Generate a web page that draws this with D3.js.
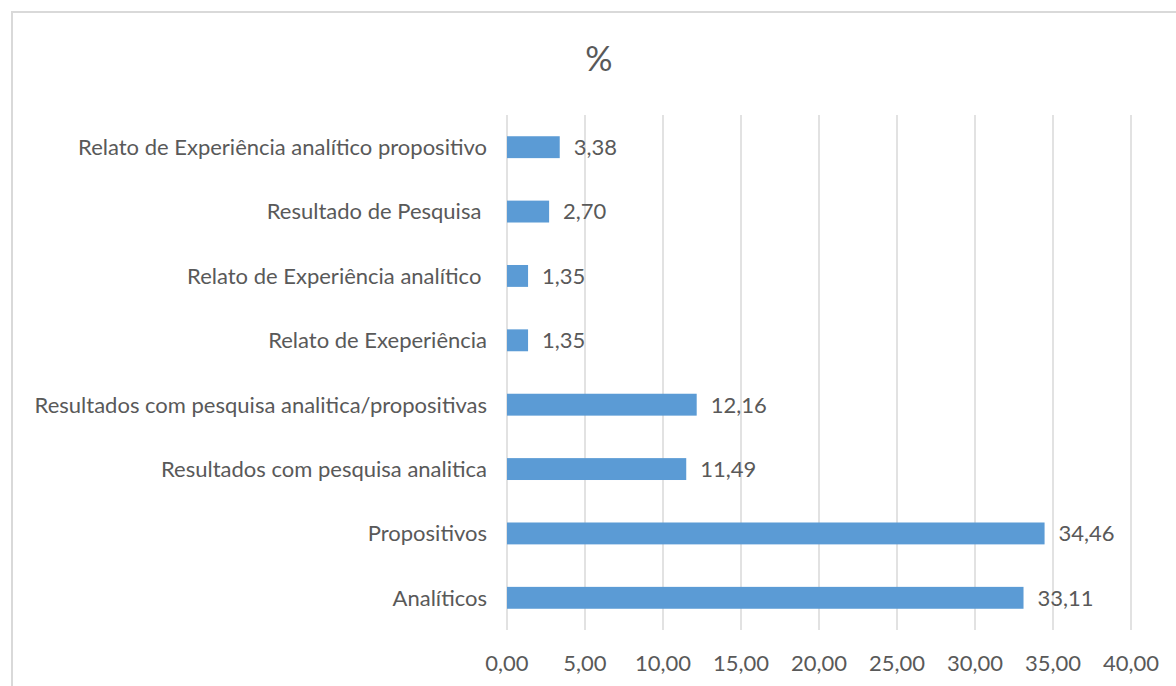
<!DOCTYPE html>
<html>
<head>
<meta charset="utf-8">
<script src="https://cdn.jsdelivr.net/npm/d3@7"></script>
<style>
  body { margin: 0; background: #fff; }
  svg text { font-family: Lato, "Open Sans", sans-serif; fill: #595959; white-space: pre; }
</style>
</head>
<body>
<svg id="chart" width="1176" height="686"></svg>
<script>
const categories = [
    "Relato de Experiência analítico propositivo",
    "Resultado de Pesquisa ",
    "Relato de Experiência analítico ",
    "Relato de Exeperiência",
    "Resultados com pesquisa analitica/propositivas",
    "Resultados com pesquisa analitica",
    "Propositivos",
    "Analíticos"
]
const values = [3.38, 2.70, 1.35, 1.35, 12.16, 11.49, 34.46, 33.11]
const ticks = [0, 5, 10, 15, 20, 25, 30, 35, 40]
const title = "%"

const fmt = v => v.toFixed(2).replace(".", ",")

const svg = d3.select("#chart")
const width = 1176, height = 686
const margin = {top: 115, right: 45, bottom: 56, left: 507}

// frame of the chart area
svg.append("path")
    .attr("d", `M${width},12H12V${height}`)
    .attr("fill", "none")
    .attr("stroke", "#d9d9d9")
    .attr("stroke-width", 2)

const x = d3.scaleLinear()
    .domain([0, 40])
    .range([margin.left, width - margin.right])

const y = d3.scaleBand()
    .domain(categories)
    .range([margin.top, height - margin.bottom])
    .paddingInner(0.66)
    .paddingOuter(0.33)

// gridlines
svg.append("g")
    .selectAll("line")
    .data(ticks)
    .join("line")
        .attr("x1", d => x(d))
        .attr("x2", d => x(d))
        .attr("y1", margin.top)
        .attr("y2", height - margin.bottom)
        .attr("stroke", "#d9d9d9")
        .attr("stroke-width", 1.5)

// x tick labels
svg.append("g")
    .selectAll("text")
    .data(ticks)
    .join("text")
        .attr("x", d => x(d))
        .attr("y", 671)
        .attr("text-anchor", "middle")
        .style("font-size", "22px")
        .text(d => fmt(d))

// bars
svg.append("g")
    .selectAll("rect")
    .data(values)
    .join("rect")
        .attr("x", x(0))
        .attr("y", (d, i) => y(categories[i]))
        .attr("width", d => x(d) - x(0))
        .attr("height", y.bandwidth())
        .attr("fill", "#5b9bd5")

// value labels
svg.append("g")
    .selectAll("text")
    .data(values)
    .join("text")
        .attr("x", d => x(d) + 14)
        .attr("y", (d, i) => y(categories[i]) + y.bandwidth() / 2)
        .attr("dy", "0.36em")
        .style("font-size", "22px")
        .text(d => fmt(d))

// category labels
svg.append("g")
    .selectAll("text")
    .data(categories)
    .join("text")
        .attr("x", margin.left - 20)
        .attr("y", d => y(d) + y.bandwidth() / 2)
        .attr("dy", "0.36em")
        .attr("text-anchor", "end")
        .style("font-size", "22px")
        .text(d => d)

svg.append("text")
    .attr("x", 599)
    .attr("y", 71)
    .attr("text-anchor", "middle")
    .style("font-size", "34px")
    .text(title)
</script>
</body>
</html>
